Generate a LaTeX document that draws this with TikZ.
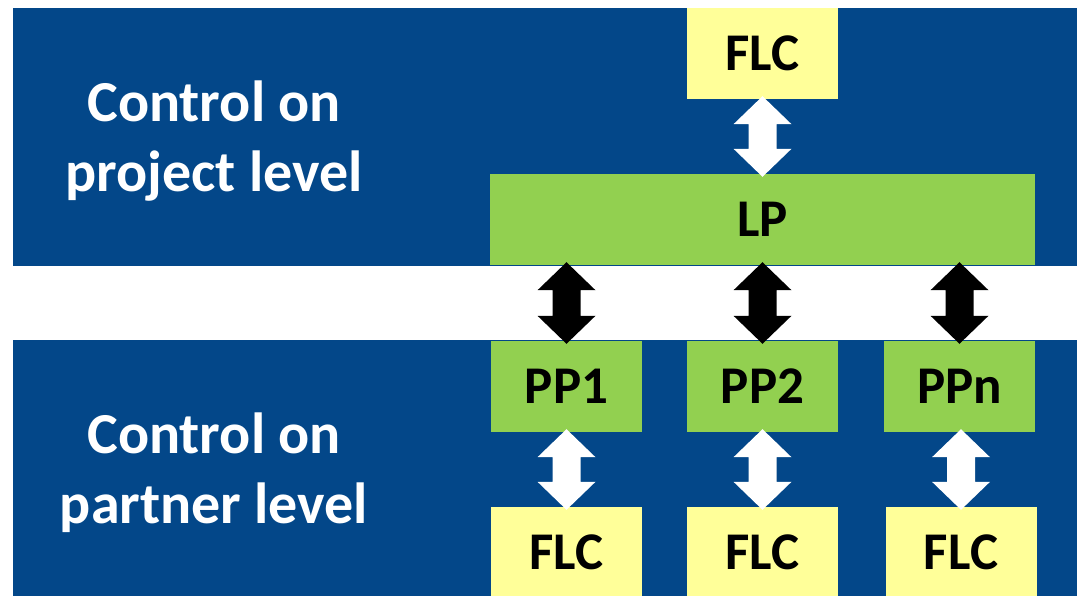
\documentclass[tikz,border=0pt]{standalone}
\usepackage{fontspec}
\setmainfont{Carlito}
\usetikzlibrary{calc}
\definecolor{bandblue}{RGB}{3,71,137}
\definecolor{boxgreen}{RGB}{146,208,80}
\definecolor{boxyellow}{RGB}{255,255,153}
\newcommand\blockarrow[3]{%
  \fill[#3] let \p1=(#1.south -| #2.north), \p2=(#2.north) in
    (\x1,\y1+3pt) -- (\x1+29pt,\y1-25pt) -- (\x1+14pt,\y1-25pt) --
    (\x1+14pt,\y2+25pt) -- (\x1+29pt,\y2+25pt) -- (\x1,\y2-3pt) --
    (\x1-29pt,\y2+25pt) -- (\x1-14pt,\y2+25pt) -- (\x1-14pt,\y1-25pt) --
    (\x1-29pt,\y1-25pt) -- cycle;}
\tikzset{
  box/.style={inner sep=0pt, minimum height=91pt, font=\fontsize{53}{60}\selectfont\bfseries, text=black},
  flcbox/.style={box, fill=boxyellow, minimum width=151pt},
  ppbox/.style={box, fill=boxgreen, minimum width=151pt},
  lpbox/.style={box, fill=boxgreen, minimum width=545pt},
  sidetext/.style={text=white, align=center, inner sep=0pt, anchor=base,
    font=\fontsize{58}{70}\selectfont\bfseries},
  band/.style={fill=bandblue}
}
\begin{document}
\begin{tikzpicture}[x=1pt,y=-1pt]
\useasboundingbox (0,0) rectangle (1080,595);
\clip (0,0) rectangle (1080,595);
\fill[white] (0,0) rectangle (1080,595);
\fill[band] (13,8) rectangle (1077,266);
\fill[band] (13,340) rectangle (1077,600);
\node[sidetext] (t1) at (214,191) {Control on\\project level};
\node[sidetext] (t2) at (214,523) {Control on\\partner level};
\node[flcbox] (flc0) at (762.5,53.5) {FLC};
\node[lpbox] (lp) at (762.5,219.5) {LP};
\node[ppbox] (pp1) at (566.5,386.5) {PP1};
\node[ppbox] (pp2) at (762.5,386.5) {PP2};
\node[ppbox] (ppn) at (959.5,386.5) {PPn};
\node[flcbox] (flc1) at (566.5,552.5) {FLC};
\node[flcbox] (flc2) at (762.5,552.5) {FLC};
\node[flcbox] (flc3) at (961,552.5) {FLC};
\blockarrow{flc0}{lp}{white}
\blockarrow{lp}{pp1}{black}
\blockarrow{lp}{pp2}{black}
\blockarrow{lp}{ppn}{black}
\blockarrow{pp1}{flc1}{white}
\blockarrow{pp2}{flc2}{white}
\blockarrow{ppn}{flc3}{white}
\end{tikzpicture}
\end{document}
